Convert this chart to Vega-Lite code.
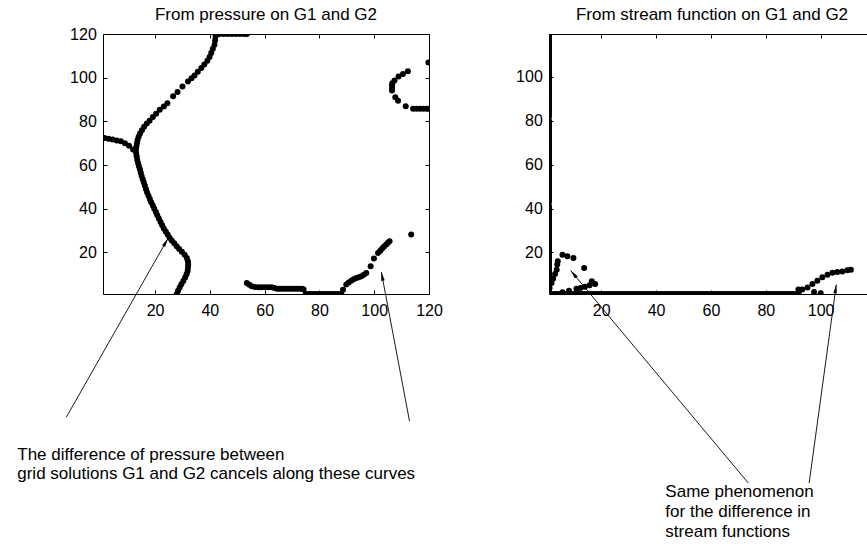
{
  "$schema": "https://vega.github.io/schema/vega-lite/v6.json",
  "padding": {"left": 16, "top": 5, "right": 0, "bottom": 0},
  "background": "white",
  "bounds": "flush",
  "spacing": 120,
  "datasets": {
    "pL": [
      {"x":27.9,"y":1},{"x":28.4,"y":2.5},{"x":29,"y":4},{"x":29.6,"y":5.5},{"x":30.3,"y":7},{"x":31,"y":8.5},{"x":31.5,"y":10},{"x":31.9,"y":11.5},{"x":32,"y":13},{"x":32.1,"y":14.5},{"x":32,"y":16},{"x":31.6,"y":17.5},{"x":30.8,"y":19},{"x":29.8,"y":20.3},{"x":28.8,"y":21.6},{"x":27.9,"y":22.9},{"x":27,"y":24.2},{"x":26.1,"y":25.5},{"x":25.3,"y":26.8},{"x":24.6,"y":28.2},{"x":23.9,"y":29.6},{"x":23.2,"y":31},{"x":22.6,"y":32.5},{"x":22,"y":34},{"x":21.4,"y":35.5},{"x":20.8,"y":37},{"x":20.3,"y":38.5},{"x":19.7,"y":40},{"x":19.2,"y":41.5},{"x":18.6,"y":43},{"x":18.1,"y":44.5},{"x":17.6,"y":46},{"x":17.1,"y":47.5},{"x":16.7,"y":49},{"x":16.3,"y":50.5},{"x":15.9,"y":52},{"x":15.5,"y":53.5},{"x":15.1,"y":55},{"x":14.8,"y":56.5},{"x":14.5,"y":58},{"x":14.1,"y":59.5},{"x":13.8,"y":61},{"x":13.5,"y":62.5},{"x":13.3,"y":64},{"x":13.1,"y":65.5},{"x":13,"y":67},{"x":13.2,"y":68.5},{"x":13.4,"y":70},{"x":13.6,"y":71.5},{"x":14,"y":73},{"x":14.5,"y":74.5},{"x":15.2,"y":76},{"x":16,"y":77.5},{"x":17,"y":79},{"x":18,"y":80.3},{"x":19.2,"y":82},{"x":20.4,"y":83.5},{"x":21.7,"y":85.3},{"x":23.2,"y":86.8},{"x":24.5,"y":88.3},{"x":26.6,"y":91.5},{"x":28.2,"y":93.4},{"x":30,"y":96},{"x":32,"y":98.3},{"x":33.3,"y":99.8},{"x":34.4,"y":101},{"x":35.6,"y":102.7},{"x":36.9,"y":104.4},{"x":38,"y":106},{"x":39.1,"y":107.8},{"x":39.9,"y":109.5},{"x":40.5,"y":111.3},{"x":41.1,"y":113.2},{"x":41.7,"y":115.1},{"x":41.9,"y":117},{"x":42.1,"y":118.9},{"x":42.3,"y":120},{"x":43.5,"y":120},{"x":45,"y":120},{"x":46.5,"y":120},{"x":48,"y":120},{"x":49.5,"y":120},{"x":51,"y":120},{"x":52.5,"y":120},{"x":53.5,"y":120},
      {"x":12,"y":67.1},{"x":10.5,"y":68.8},{"x":9,"y":70},{"x":7.5,"y":70.9},{"x":6,"y":71.3},{"x":4.5,"y":71.7},{"x":3,"y":72},{"x":1.5,"y":72.4},{"x":1,"y":72.5},
      {"x":53.5,"y":6},{"x":54.4,"y":5.2},{"x":55.3,"y":4.5},{"x":56.5,"y":4.2},{"x":57.8,"y":4.1},{"x":59,"y":4.1},{"x":60.2,"y":4.1},{"x":61.4,"y":4.1},{"x":62.6,"y":4.1},{"x":63.6,"y":3.7},{"x":64.5,"y":3.4},{"x":65.5,"y":3.4},{"x":66.5,"y":3.4},{"x":67.5,"y":3.4},{"x":68.5,"y":3.4},{"x":69.5,"y":3.4},{"x":70.5,"y":3.4},{"x":71.5,"y":3.4},{"x":72.5,"y":3.4},{"x":73.5,"y":3.4},{"x":74.2,"y":3.2},
      {"x":75,"y":1},{"x":76,"y":1},{"x":77,"y":1},{"x":78,"y":1},{"x":79,"y":1},{"x":80,"y":1},{"x":81,"y":1},{"x":82,"y":1},{"x":83,"y":1},{"x":84,"y":1},{"x":85,"y":1},{"x":86,"y":1},{"x":87,"y":1},{"x":88,"y":1},
      {"x":88.6,"y":3},{"x":89.8,"y":5.3},{"x":90.7,"y":6.3},{"x":91.6,"y":7.1},{"x":92.5,"y":7.8},{"x":93.5,"y":8.3},{"x":94.4,"y":8.7},{"x":95.3,"y":9.1},{"x":96.2,"y":9.8},{"x":97.1,"y":10.6},{"x":98.7,"y":13.7},{"x":99.9,"y":17.2},{"x":101.4,"y":19.8},{"x":102.2,"y":20.8},{"x":102.9,"y":21.8},{"x":103.6,"y":22.7},{"x":104.4,"y":23.6},{"x":105,"y":24.4},{"x":105.6,"y":25.1},{"x":113.5,"y":28.2},
      {"x":119.8,"y":107},{"x":112.3,"y":102.9},{"x":110.5,"y":101.7},{"x":108.9,"y":100.6},{"x":107.4,"y":98.7},{"x":106.6,"y":97.5},{"x":106.5,"y":96.5},{"x":106.5,"y":95.2},{"x":106.5,"y":94.1},{"x":107.7,"y":91},{"x":108.7,"y":89.5},{"x":111.5,"y":86.9},{"x":114.2,"y":85.8},{"x":115.5,"y":85.8},{"x":116.8,"y":85.8},{"x":118,"y":85.8},{"x":119.2,"y":85.8},{"x":120,"y":85.8}
    ],
    "pR": [
      {"x":1,"y":1},{"x":1,"y":2},{"x":1,"y":3},{"x":1,"y":4},{"x":1,"y":5},{"x":1,"y":6},{"x":1,"y":7},{"x":1,"y":8},{"x":1,"y":9},{"x":1,"y":10},{"x":1,"y":11},{"x":1,"y":12},{"x":1,"y":13},{"x":1,"y":14},{"x":1,"y":15},{"x":1,"y":16},{"x":1,"y":17},{"x":1,"y":18},{"x":1,"y":19},{"x":1,"y":20},{"x":1,"y":21},{"x":1,"y":22},{"x":1,"y":23},{"x":1,"y":24},{"x":1,"y":25},{"x":1,"y":26},{"x":1,"y":27},{"x":1,"y":28},{"x":1,"y":29},{"x":1,"y":30},{"x":1,"y":31},{"x":1,"y":32},{"x":1,"y":33},{"x":1,"y":34},{"x":1,"y":35},{"x":1,"y":36},{"x":1,"y":37},{"x":1,"y":38},{"x":1,"y":39},{"x":1,"y":40},{"x":1,"y":41},{"x":1,"y":43},{"x":1,"y":44},{"x":1,"y":45},{"x":1,"y":46},{"x":1,"y":47},{"x":1,"y":48},{"x":1,"y":49},{"x":1,"y":50},{"x":1,"y":51},{"x":1,"y":52},{"x":1,"y":53},{"x":1,"y":54},{"x":1,"y":55},{"x":1,"y":56},{"x":1,"y":57},{"x":1,"y":58},{"x":1,"y":59},{"x":1,"y":60},{"x":1,"y":61},{"x":1,"y":62},{"x":1,"y":63},{"x":1,"y":64},{"x":1,"y":65},{"x":1,"y":66},{"x":1,"y":67},{"x":1,"y":68},{"x":1,"y":69},{"x":1,"y":70},{"x":1,"y":71},{"x":1,"y":72},{"x":1,"y":73},{"x":1,"y":74},{"x":1,"y":75},{"x":1,"y":76},{"x":1,"y":77},{"x":1,"y":78},{"x":1,"y":79},{"x":1,"y":80},{"x":1,"y":82},{"x":1,"y":83},{"x":1,"y":84},{"x":1,"y":85},{"x":1,"y":86},{"x":1,"y":87},{"x":1,"y":88},{"x":1,"y":89},{"x":1,"y":90},{"x":1,"y":91},{"x":1,"y":92},{"x":1,"y":93},{"x":1,"y":94},{"x":1,"y":95},{"x":1,"y":96},{"x":1,"y":97},{"x":1,"y":98},{"x":1,"y":99},{"x":1,"y":100},{"x":1,"y":101},{"x":1,"y":102},{"x":1,"y":103},{"x":1,"y":104},{"x":1,"y":105},{"x":1,"y":106},{"x":1,"y":107},{"x":1,"y":108},{"x":1,"y":109},{"x":1,"y":110},{"x":1,"y":111},{"x":1,"y":112},{"x":1,"y":113},{"x":1,"y":114},{"x":1,"y":115},{"x":1,"y":116},{"x":1,"y":117},{"x":1,"y":118},{"x":1,"y":119},{"x":1,"y":119.6},
      {"x":2,"y":1},{"x":3,"y":1},{"x":4,"y":1},{"x":5,"y":1},{"x":6,"y":1},{"x":7,"y":1},{"x":8,"y":1},{"x":9,"y":1},{"x":10,"y":1},{"x":11,"y":1},{"x":12,"y":1},{"x":13,"y":1},{"x":14,"y":1},{"x":15,"y":1},{"x":16,"y":1},{"x":17,"y":1},{"x":18,"y":1},{"x":19,"y":1},{"x":20,"y":1},{"x":21,"y":1},{"x":22,"y":1},{"x":23,"y":1},{"x":24,"y":1},{"x":25,"y":1},{"x":26,"y":1},{"x":27,"y":1},{"x":28,"y":1},{"x":29,"y":1},{"x":30,"y":1},{"x":31,"y":1},{"x":32,"y":1},{"x":33,"y":1},{"x":34,"y":1},{"x":35,"y":1},{"x":36,"y":1},{"x":37,"y":1},{"x":38,"y":1},{"x":39,"y":1},{"x":40,"y":1},{"x":41,"y":1},{"x":42,"y":1},{"x":43,"y":1},{"x":44,"y":1},{"x":45,"y":1},{"x":46,"y":1},{"x":47,"y":1},{"x":48,"y":1},{"x":49,"y":1},{"x":50,"y":1},{"x":51,"y":1},{"x":52,"y":1},{"x":53,"y":1},{"x":54,"y":1},{"x":55,"y":1},{"x":56,"y":1},{"x":57,"y":1},{"x":58,"y":1},{"x":59,"y":1},{"x":60,"y":1},{"x":61,"y":1},{"x":62,"y":1},{"x":63,"y":1},{"x":64,"y":1},{"x":65,"y":1},{"x":66,"y":1},{"x":67,"y":1},{"x":68,"y":1},{"x":69,"y":1},{"x":70,"y":1},{"x":71,"y":1},{"x":72,"y":1},{"x":73,"y":1},{"x":74,"y":1},{"x":75,"y":1},{"x":76,"y":1},{"x":77,"y":1},{"x":78,"y":1},{"x":79,"y":1},{"x":80,"y":1},{"x":81,"y":1},{"x":82,"y":1},{"x":83,"y":1},{"x":84,"y":1},{"x":85,"y":1},{"x":86,"y":1},{"x":87,"y":1},{"x":88,"y":1},{"x":89,"y":1},{"x":90,"y":1},{"x":91,"y":1},{"x":92,"y":1},
      {"x":1.2,"y":3.7},{"x":1.9,"y":6},{"x":2.5,"y":8},{"x":3.2,"y":10.1},{"x":3.8,"y":12.1},{"x":4,"y":14.4},{"x":4.2,"y":15.9},{"x":5.9,"y":18.9},{"x":7.7,"y":18.2},{"x":9.9,"y":17.4},{"x":13.8,"y":12.9},{"x":16.6,"y":6.8},{"x":17.8,"y":5.6},{"x":15.8,"y":5},{"x":14.1,"y":4.3},{"x":12.5,"y":3.7},{"x":11,"y":3.4},{"x":8.3,"y":2.5},{"x":5.9,"y":1.8},
      {"x":91.9,"y":3},{"x":93.3,"y":3},{"x":95.2,"y":4},{"x":97,"y":5.6},{"x":98.8,"y":7.1},{"x":100.6,"y":8.6},{"x":102.5,"y":9.8},{"x":104.3,"y":10.7},{"x":106.1,"y":11},{"x":107.9,"y":11.3},{"x":109.7,"y":11.8},{"x":111,"y":12.1},{"x":97.6,"y":1.9},{"x":100,"y":1.3}
    ],
    "aL": [
      {"x":-12.4,"y":-55.4,"x2":24.7,"y2":26.4},
      {"x":112.9,"y":-57.3,"x2":102.6,"y2":11.1}
    ],
    "aR": [
      {"x":73.6,"y":-85.2,"x2":8.9,"y2":11.7},
      {"x":95.8,"y":-85.2,"x2":105.7,"y2":5.3}
    ],
    "tL": [
      {"x":-30.3,"y":-74.8,"t":"The difference of pressure between\ngrid solutions G1 and G2 cancels along these curves"}
    ],
    "tR": [
      {"x":43.4,"y":-91.6,"t":"Same phenomenon\nfor the difference in\nstream functions"}
    ]
  },
  "hconcat": [
    {
      "width": 326,
      "height": 260,
      "title": {"text": "From pressure on G1 and G2", "offset": 2},
      "resolve": {"axis": {"x": "independent", "y": "independent"}},
      "layer": [
        {
          "data": {"name": "pL"},
          "mark": {"type": "point", "filled": true, "size": 36, "color": "black", "opacity": 1, "strokeWidth": 0, "clip": true},
          "encoding": {
            "x": {"field": "x", "type": "quantitative", "scale": {"domain": [1, 120], "nice": false, "zero": false}, "axis": {"orient": "bottom", "values": [20, 40, 60, 80, 100, 120], "title": null}},
            "y": {"field": "y", "type": "quantitative", "scale": {"domain": [1, 120], "nice": false, "zero": false}, "axis": {"orient": "left", "values": [20, 40, 60, 80, 100, 120], "title": null}}
          }
        },
        {
          "data": {"name": "aL"},
          "mark": {"type": "rule", "color": "black", "strokeWidth": 0.9},
          "encoding": {
            "x": {"field": "x", "type": "quantitative", "scale": {"domain": [1, 120], "nice": false, "zero": false}, "axis": {"orient": "top", "values": [20, 40, 60, 80, 100, 120], "labels": false, "title": null}},
            "y": {"field": "y", "type": "quantitative", "scale": {"domain": [1, 120], "nice": false, "zero": false}, "axis": {"orient": "right", "values": [20, 40, 60, 80, 100, 120], "labels": false, "title": null}},
            "x2": {"field": "x2"},
            "y2": {"field": "y2"}
          }
        },
        {
          "data": {"values": [{"x": 24.7, "y": 26.4}]},
          "mark": {"type": "point", "filled": true, "color": "black", "opacity": 1, "strokeWidth": 0, "size": 64, "shape": "M0,0L-0.45,2.2L0.45,2.2Z", "angle": 29.6},
          "encoding": {
            "x": {"field": "x", "type": "quantitative", "scale": {"domain": [1, 120], "nice": false, "zero": false}, "axis": null},
            "y": {"field": "y", "type": "quantitative", "scale": {"domain": [1, 120], "nice": false, "zero": false}, "axis": null}
          }
        },
        {
          "data": {"values": [{"x": 102.6, "y": 11.1}]},
          "mark": {"type": "point", "filled": true, "color": "black", "opacity": 1, "strokeWidth": 0, "size": 64, "shape": "M0,0L-0.45,2.2L0.45,2.2Z", "angle": -10.7},
          "encoding": {
            "x": {"field": "x", "type": "quantitative", "scale": {"domain": [1, 120], "nice": false, "zero": false}, "axis": null},
            "y": {"field": "y", "type": "quantitative", "scale": {"domain": [1, 120], "nice": false, "zero": false}, "axis": null}
          }
        },
        {
          "data": {"name": "tL"},
          "mark": {"type": "text", "align": "left", "baseline": "alphabetic", "font": "Liberation Sans", "fontSize": 17, "lineBreak": "\n", "lineHeight": 19.5, "color": "black"},
          "encoding": {
            "x": {"field": "x", "type": "quantitative", "scale": {"domain": [1, 120], "nice": false, "zero": false}, "axis": null},
            "y": {"field": "y", "type": "quantitative", "scale": {"domain": [1, 120], "nice": false, "zero": false}, "axis": null},
            "text": {"field": "t"}
          }
        }
      ]
    },
    {
      "width": 326,
      "height": 260,
      "title": {"text": "From stream function on G1 and G2", "offset": 10},
      "resolve": {"axis": {"x": "independent", "y": "independent"}},
      "layer": [
        {
          "data": {"name": "pR"},
          "mark": {"type": "point", "filled": true, "size": 36, "color": "black", "opacity": 1, "strokeWidth": 0, "clip": true},
          "encoding": {
            "x": {"field": "x", "type": "quantitative", "scale": {"domain": [1, 119.8], "nice": false, "zero": false}, "axis": {"orient": "bottom", "values": [20, 40, 60, 80, 100], "title": null}},
            "y": {"field": "y", "type": "quantitative", "scale": {"domain": [1, 119.6], "nice": false, "zero": false}, "axis": {"orient": "left", "values": [20, 40, 60, 80, 100], "title": null}}
          }
        },
        {
          "data": {"name": "aR"},
          "mark": {"type": "rule", "color": "black", "strokeWidth": 0.9},
          "encoding": {
            "x": {"field": "x", "type": "quantitative", "scale": {"domain": [1, 119.8], "nice": false, "zero": false}, "axis": {"orient": "top", "values": [20, 40, 60, 80, 100], "labels": false, "title": null}},
            "y": {"field": "y", "type": "quantitative", "scale": {"domain": [1, 119.6], "nice": false, "zero": false}, "axis": {"orient": "right", "values": [20, 40, 60, 80, 100], "labels": false, "title": null}},
            "x2": {"field": "x2"},
            "y2": {"field": "y2"}
          }
        },
        {
          "data": {"values": [{"x": 8.9, "y": 11.7}]},
          "mark": {"type": "point", "filled": true, "color": "black", "opacity": 1, "strokeWidth": 0, "size": 64, "shape": "M0,0L-0.45,2.2L0.45,2.2Z", "angle": -39.9},
          "encoding": {
            "x": {"field": "x", "type": "quantitative", "scale": {"domain": [1, 119.8], "nice": false, "zero": false}, "axis": null},
            "y": {"field": "y", "type": "quantitative", "scale": {"domain": [1, 119.6], "nice": false, "zero": false}, "axis": null}
          }
        },
        {
          "data": {"values": [{"x": 105.7, "y": 5.3}]},
          "mark": {"type": "point", "filled": true, "color": "black", "opacity": 1, "strokeWidth": 0, "size": 64, "shape": "M0,0L-0.45,2.2L0.45,2.2Z", "angle": 7.8},
          "encoding": {
            "x": {"field": "x", "type": "quantitative", "scale": {"domain": [1, 119.8], "nice": false, "zero": false}, "axis": null},
            "y": {"field": "y", "type": "quantitative", "scale": {"domain": [1, 119.6], "nice": false, "zero": false}, "axis": null}
          }
        },
        {
          "data": {"name": "tR"},
          "mark": {"type": "text", "align": "left", "baseline": "alphabetic", "font": "Liberation Sans", "fontSize": 17, "lineBreak": "\n", "lineHeight": 20, "color": "black"},
          "encoding": {
            "x": {"field": "x", "type": "quantitative", "scale": {"domain": [1, 119.8], "nice": false, "zero": false}, "axis": null},
            "y": {"field": "y", "type": "quantitative", "scale": {"domain": [1, 119.6], "nice": false, "zero": false}, "axis": null},
            "text": {"field": "t"}
          }
        }
      ]
    }
  ],
  "config": {
    "view": {"stroke": "black", "strokeWidth": 1},
    "axis": {"grid": false, "domain": false, "ticks": true, "tickColor": "black", "tickSize": -4, "tickWidth": 1, "labelColor": "black", "labelFont": "Liberation Sans", "labelFontSize": 16, "labelFlush": false, "labelOverlap": false, "labelBound": false},
    "axisBottom": {"labelPadding": 12},
    "axisLeft": {"labelPadding": 10.7},
    "axisTop": {"labelPadding": 0},
    "axisRight": {"labelPadding": 0},
    "title": {"font": "Liberation Sans", "fontSize": 17, "fontWeight": "normal", "color": "black", "baseline": "alphabetic", "frame": "group"}
  }
}
